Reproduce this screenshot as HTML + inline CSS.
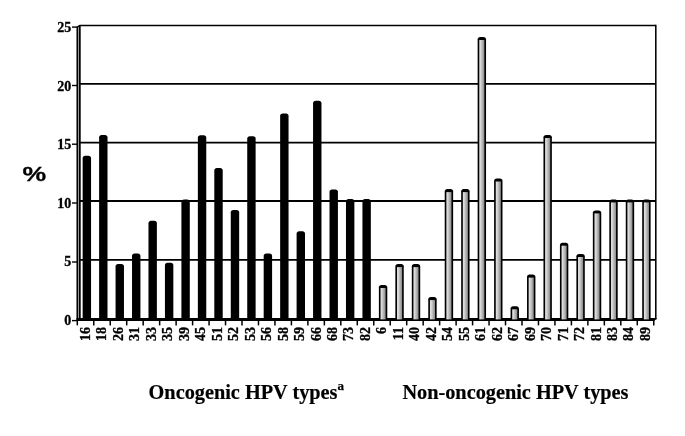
<!DOCTYPE html>
<html><head><meta charset="utf-8"><style>
html,body{margin:0;padding:0;background:#fff;}
svg{display:block;filter:grayscale(1);}
.ax{font-family:"Liberation Serif",serif;font-weight:bold;font-size:14px;stroke:#000;stroke-width:0.3px;}
.ti{font-family:"Liberation Serif",serif;font-weight:bold;font-size:20.3px;stroke:#000;stroke-width:0.2px;}
.pc{font-family:"Liberation Sans",sans-serif;font-weight:bold;font-size:20px;stroke:#000;stroke-width:0.25px;}
.sup{font-family:"Liberation Serif",serif;font-weight:bold;font-size:13px;stroke:#000;stroke-width:0.25px;}
</style></head><body>
<svg width="685" height="436" viewBox="0 0 685 436">
<rect width="685" height="436" fill="#fff"/>
<defs><linearGradient id="g" x1="0" x2="1" y1="0" y2="0"><stop offset="0" stop-color="#e4e4e4"/><stop offset="0.25" stop-color="#d8d8d8"/><stop offset="1" stop-color="#888888"/></linearGradient></defs>
<line x1="79.9" y1="25.5" x2="655.8" y2="25.5" stroke="#000" stroke-width="1.4"/>
<line x1="79.9" y1="83.9" x2="655.8" y2="83.9" stroke="#000" stroke-width="1.75"/>
<line x1="79.9" y1="142.55" x2="655.8" y2="142.55" stroke="#000" stroke-width="1.65"/>
<line x1="79.9" y1="201.0" x2="655.8" y2="201.0" stroke="#000" stroke-width="1.8"/>
<line x1="79.9" y1="259.95" x2="655.8" y2="259.95" stroke="#000" stroke-width="1.8"/>
<line x1="77.4" y1="26.6" x2="77.4" y2="321" stroke="#000" stroke-width="1.85"/>
<line x1="79.8" y1="25" x2="79.8" y2="318.5" stroke="#000" stroke-width="1.8"/>
<line x1="77.4" y1="27" x2="79.8" y2="25.2" stroke="#000" stroke-width="1.3"/>
<line x1="655.8" y1="24.8" x2="655.8" y2="319.5" stroke="#000" stroke-width="1.55"/>
<line x1="72" y1="27.1" x2="77.5" y2="27.1" stroke="#000" stroke-width="1.4"/>
<line x1="72" y1="85.5" x2="77.5" y2="85.5" stroke="#000" stroke-width="1.4"/>
<line x1="72" y1="144.2" x2="77.5" y2="144.2" stroke="#000" stroke-width="1.4"/>
<line x1="72" y1="203.0" x2="77.5" y2="203.0" stroke="#000" stroke-width="1.4"/>
<line x1="72" y1="262.0" x2="77.5" y2="262.0" stroke="#000" stroke-width="1.4"/>
<line x1="72" y1="320.6" x2="77.5" y2="320.6" stroke="#000" stroke-width="1.4"/>
<polygon fill="#000" points="76.5,317.9 656.5,317.9 656.5,318.7 654.2,321.1 76.5,321.1"/>
<path d="M82.65,158.00 C82.65,156.40 83.95,155.80 86.85,155.80 C89.75,155.80 91.05,156.40 91.05,158.00 L91.05,319.60 L82.65,319.60 Z" fill="#000"/>
<path d="M99.11,137.20 C99.11,135.60 100.41,135.00 103.31,135.00 C106.21,135.00 107.51,135.60 107.51,137.20 L107.51,319.60 L99.11,319.60 Z" fill="#000"/>
<path d="M115.57,266.10 C115.57,264.50 116.87,263.90 119.77,263.90 C122.67,263.90 123.97,264.50 123.97,266.10 L123.97,319.60 L115.57,319.60 Z" fill="#000"/>
<path d="M132.02,255.70 C132.02,254.10 133.32,253.50 136.22,253.50 C139.12,253.50 140.42,254.10 140.42,255.70 L140.42,319.60 L132.02,319.60 Z" fill="#000"/>
<path d="M148.48,223.00 C148.48,221.40 149.78,220.80 152.68,220.80 C155.58,220.80 156.88,221.40 156.88,223.00 L156.88,319.60 L148.48,319.60 Z" fill="#000"/>
<path d="M164.94,265.00 C164.94,263.40 166.24,262.80 169.14,262.80 C172.04,262.80 173.34,263.40 173.34,265.00 L173.34,319.60 L164.94,319.60 Z" fill="#000"/>
<path d="M181.40,201.70 C181.40,200.10 182.70,199.50 185.60,199.50 C188.50,199.50 189.80,200.10 189.80,201.70 L189.80,319.60 L181.40,319.60 Z" fill="#000"/>
<path d="M197.86,137.40 C197.86,135.80 199.16,135.20 202.06,135.20 C204.96,135.20 206.26,135.80 206.26,137.40 L206.26,319.60 L197.86,319.60 Z" fill="#000"/>
<path d="M214.31,170.10 C214.31,168.50 215.61,167.90 218.51,167.90 C221.41,167.90 222.71,168.50 222.71,170.10 L222.71,319.60 L214.31,319.60 Z" fill="#000"/>
<path d="M230.77,212.20 C230.77,210.60 232.07,210.00 234.97,210.00 C237.87,210.00 239.17,210.60 239.17,212.20 L239.17,319.60 L230.77,319.60 Z" fill="#000"/>
<path d="M247.23,138.50 C247.23,136.90 248.53,136.30 251.43,136.30 C254.33,136.30 255.63,136.90 255.63,138.50 L255.63,319.60 L247.23,319.60 Z" fill="#000"/>
<path d="M263.69,255.80 C263.69,254.20 264.99,253.60 267.89,253.60 C270.79,253.60 272.09,254.20 272.09,255.80 L272.09,319.60 L263.69,319.60 Z" fill="#000"/>
<path d="M280.15,115.80 C280.15,114.20 281.45,113.60 284.35,113.60 C287.25,113.60 288.55,114.20 288.55,115.80 L288.55,319.60 L280.15,319.60 Z" fill="#000"/>
<path d="M296.60,233.40 C296.60,231.80 297.90,231.20 300.80,231.20 C303.70,231.20 305.00,231.80 305.00,233.40 L305.00,319.60 L296.60,319.60 Z" fill="#000"/>
<path d="M313.06,103.00 C313.06,101.40 314.36,100.80 317.26,100.80 C320.16,100.80 321.46,101.40 321.46,103.00 L321.46,319.60 L313.06,319.60 Z" fill="#000"/>
<path d="M329.52,191.60 C329.52,190.00 330.82,189.40 333.72,189.40 C336.62,189.40 337.92,190.00 337.92,191.60 L337.92,319.60 L329.52,319.60 Z" fill="#000"/>
<path d="M345.98,201.20 C345.98,199.60 347.28,199.00 350.18,199.00 C353.08,199.00 354.38,199.60 354.38,201.20 L354.38,319.60 L345.98,319.60 Z" fill="#000"/>
<path d="M362.44,201.20 C362.44,199.60 363.74,199.00 366.64,199.00 C369.54,199.00 370.84,199.60 370.84,201.20 L370.84,319.60 L362.44,319.60 Z" fill="#000"/>
<path d="M378.89,287.20 C378.89,285.60 380.19,285.00 383.09,285.00 C385.99,285.00 387.29,285.60 387.29,287.20 L387.29,319.60 L378.89,319.60 Z" fill="#000"/>
<rect x="380.54" y="288.00" width="5.10" height="31.40" fill="url(#g)"/>
<path d="M395.35,266.30 C395.35,264.70 396.65,264.10 399.55,264.10 C402.45,264.10 403.75,264.70 403.75,266.30 L403.75,319.60 L395.35,319.60 Z" fill="#000"/>
<rect x="397.00" y="267.10" width="5.10" height="52.30" fill="url(#g)"/>
<path d="M411.81,266.30 C411.81,264.70 413.11,264.10 416.01,264.10 C418.91,264.10 420.21,264.70 420.21,266.30 L420.21,319.60 L411.81,319.60 Z" fill="#000"/>
<rect x="413.46" y="267.10" width="5.10" height="52.30" fill="url(#g)"/>
<path d="M428.27,299.30 C428.27,297.70 429.57,297.10 432.47,297.10 C435.37,297.10 436.67,297.70 436.67,299.30 L436.67,319.60 L428.27,319.60 Z" fill="#000"/>
<rect x="429.92" y="300.10" width="5.10" height="19.30" fill="url(#g)"/>
<path d="M444.73,191.30 C444.73,189.70 446.03,189.10 448.93,189.10 C451.83,189.10 453.13,189.70 453.13,191.30 L453.13,319.60 L444.73,319.60 Z" fill="#000"/>
<rect x="446.38" y="192.10" width="5.10" height="127.30" fill="url(#g)"/>
<path d="M461.18,191.30 C461.18,189.70 462.48,189.10 465.38,189.10 C468.28,189.10 469.58,189.70 469.58,191.30 L469.58,319.60 L461.18,319.60 Z" fill="#000"/>
<rect x="462.83" y="192.10" width="5.10" height="127.30" fill="url(#g)"/>
<path d="M477.64,39.20 C477.64,37.60 478.94,37.00 481.84,37.00 C484.74,37.00 486.04,37.60 486.04,39.20 L486.04,319.60 L477.64,319.60 Z" fill="#000"/>
<rect x="479.29" y="40.00" width="5.10" height="279.40" fill="url(#g)"/>
<path d="M494.10,180.70 C494.10,179.10 495.40,178.50 498.30,178.50 C501.20,178.50 502.50,179.10 502.50,180.70 L502.50,319.60 L494.10,319.60 Z" fill="#000"/>
<rect x="495.75" y="181.50" width="5.10" height="137.90" fill="url(#g)"/>
<path d="M510.56,308.50 C510.56,306.90 511.86,306.30 514.76,306.30 C517.66,306.30 518.96,306.90 518.96,308.50 L518.96,319.60 L510.56,319.60 Z" fill="#000"/>
<rect x="512.21" y="309.30" width="5.10" height="10.10" fill="url(#g)"/>
<path d="M527.02,276.80 C527.02,275.20 528.32,274.60 531.22,274.60 C534.12,274.60 535.42,275.20 535.42,276.80 L535.42,319.60 L527.02,319.60 Z" fill="#000"/>
<rect x="528.67" y="277.60" width="5.10" height="41.80" fill="url(#g)"/>
<path d="M543.47,137.20 C543.47,135.60 544.77,135.00 547.67,135.00 C550.57,135.00 551.87,135.60 551.87,137.20 L551.87,319.60 L543.47,319.60 Z" fill="#000"/>
<rect x="545.12" y="138.00" width="5.10" height="181.40" fill="url(#g)"/>
<path d="M559.93,244.90 C559.93,243.30 561.23,242.70 564.13,242.70 C567.03,242.70 568.33,243.30 568.33,244.90 L568.33,319.60 L559.93,319.60 Z" fill="#000"/>
<rect x="561.58" y="245.70" width="5.10" height="73.70" fill="url(#g)"/>
<path d="M576.39,256.20 C576.39,254.60 577.69,254.00 580.59,254.00 C583.49,254.00 584.79,254.60 584.79,256.20 L584.79,319.60 L576.39,319.60 Z" fill="#000"/>
<rect x="578.04" y="257.00" width="5.10" height="62.40" fill="url(#g)"/>
<path d="M592.85,212.60 C592.85,211.00 594.15,210.40 597.05,210.40 C599.95,210.40 601.25,211.00 601.25,212.60 L601.25,319.60 L592.85,319.60 Z" fill="#000"/>
<rect x="594.50" y="213.40" width="5.10" height="106.00" fill="url(#g)"/>
<path d="M609.31,201.60 C609.31,200.00 610.61,199.40 613.51,199.40 C616.41,199.40 617.71,200.00 617.71,201.60 L617.71,319.60 L609.31,319.60 Z" fill="#000"/>
<rect x="610.96" y="202.40" width="5.10" height="117.00" fill="url(#g)"/>
<path d="M625.76,201.60 C625.76,200.00 627.06,199.40 629.96,199.40 C632.86,199.40 634.16,200.00 634.16,201.60 L634.16,319.60 L625.76,319.60 Z" fill="#000"/>
<rect x="627.41" y="202.40" width="5.10" height="117.00" fill="url(#g)"/>
<path d="M642.22,201.60 C642.22,200.00 643.52,199.40 646.42,199.40 C649.32,199.40 650.62,200.00 650.62,201.60 L650.62,319.60 L642.22,319.60 Z" fill="#000"/>
<rect x="643.87" y="202.40" width="5.10" height="117.00" fill="url(#g)"/>
<line x1="77.30" y1="320" x2="77.30" y2="325.4" stroke="#000" stroke-width="1.5"/>
<line x1="93.77" y1="320" x2="93.77" y2="325.4" stroke="#000" stroke-width="1.5"/>
<line x1="110.24" y1="320" x2="110.24" y2="325.4" stroke="#000" stroke-width="1.5"/>
<line x1="126.71" y1="320" x2="126.71" y2="325.4" stroke="#000" stroke-width="1.5"/>
<line x1="143.18" y1="320" x2="143.18" y2="325.4" stroke="#000" stroke-width="1.5"/>
<line x1="159.65" y1="320" x2="159.65" y2="325.4" stroke="#000" stroke-width="1.5"/>
<line x1="176.12" y1="320" x2="176.12" y2="325.4" stroke="#000" stroke-width="1.5"/>
<line x1="192.59" y1="320" x2="192.59" y2="325.4" stroke="#000" stroke-width="1.5"/>
<line x1="209.06" y1="320" x2="209.06" y2="325.4" stroke="#000" stroke-width="1.5"/>
<line x1="225.53" y1="320" x2="225.53" y2="325.4" stroke="#000" stroke-width="1.5"/>
<line x1="242.00" y1="320" x2="242.00" y2="325.4" stroke="#000" stroke-width="1.5"/>
<line x1="258.47" y1="320" x2="258.47" y2="325.4" stroke="#000" stroke-width="1.5"/>
<line x1="274.94" y1="320" x2="274.94" y2="325.4" stroke="#000" stroke-width="1.5"/>
<line x1="291.41" y1="320" x2="291.41" y2="325.4" stroke="#000" stroke-width="1.5"/>
<line x1="307.88" y1="320" x2="307.88" y2="325.4" stroke="#000" stroke-width="1.5"/>
<line x1="324.35" y1="320" x2="324.35" y2="325.4" stroke="#000" stroke-width="1.5"/>
<line x1="340.82" y1="320" x2="340.82" y2="325.4" stroke="#000" stroke-width="1.5"/>
<line x1="357.29" y1="320" x2="357.29" y2="325.4" stroke="#000" stroke-width="1.5"/>
<line x1="373.76" y1="320" x2="373.76" y2="325.4" stroke="#000" stroke-width="1.5"/>
<line x1="390.23" y1="320" x2="390.23" y2="325.4" stroke="#000" stroke-width="1.5"/>
<line x1="406.70" y1="320" x2="406.70" y2="325.4" stroke="#000" stroke-width="1.5"/>
<line x1="423.17" y1="320" x2="423.17" y2="325.4" stroke="#000" stroke-width="1.5"/>
<line x1="439.64" y1="320" x2="439.64" y2="325.4" stroke="#000" stroke-width="1.5"/>
<line x1="456.11" y1="320" x2="456.11" y2="325.4" stroke="#000" stroke-width="1.5"/>
<line x1="472.58" y1="320" x2="472.58" y2="325.4" stroke="#000" stroke-width="1.5"/>
<line x1="489.05" y1="320" x2="489.05" y2="325.4" stroke="#000" stroke-width="1.5"/>
<line x1="505.52" y1="320" x2="505.52" y2="325.4" stroke="#000" stroke-width="1.5"/>
<line x1="521.99" y1="320" x2="521.99" y2="325.4" stroke="#000" stroke-width="1.5"/>
<line x1="538.46" y1="320" x2="538.46" y2="325.4" stroke="#000" stroke-width="1.5"/>
<line x1="554.93" y1="320" x2="554.93" y2="325.4" stroke="#000" stroke-width="1.5"/>
<line x1="571.40" y1="320" x2="571.40" y2="325.4" stroke="#000" stroke-width="1.5"/>
<line x1="587.87" y1="320" x2="587.87" y2="325.4" stroke="#000" stroke-width="1.5"/>
<line x1="604.34" y1="320" x2="604.34" y2="325.4" stroke="#000" stroke-width="1.5"/>
<line x1="620.81" y1="320" x2="620.81" y2="325.4" stroke="#000" stroke-width="1.5"/>
<line x1="637.28" y1="320" x2="637.28" y2="325.4" stroke="#000" stroke-width="1.5"/>
<line x1="653.75" y1="320" x2="653.75" y2="325.4" stroke="#000" stroke-width="1.5"/>
<text x="71.2" y="32.0" text-anchor="end" class="ax">25</text>
<text x="71.2" y="90.7" text-anchor="end" class="ax">20</text>
<text x="71.2" y="149.1" text-anchor="end" class="ax">15</text>
<text x="71.2" y="207.9" text-anchor="end" class="ax">10</text>
<text x="71.2" y="266.2" text-anchor="end" class="ax">5</text>
<text x="71.2" y="324.5" text-anchor="end" class="ax">0</text>
<text transform="translate(89.94,327.0) rotate(-90)" text-anchor="end" class="ax">16</text>
<text transform="translate(106.41,327.0) rotate(-90)" text-anchor="end" class="ax">18</text>
<text transform="translate(122.88,327.0) rotate(-90)" text-anchor="end" class="ax">26</text>
<text transform="translate(139.34,327.0) rotate(-90)" text-anchor="end" class="ax">31</text>
<text transform="translate(155.81,327.0) rotate(-90)" text-anchor="end" class="ax">33</text>
<text transform="translate(172.28,327.0) rotate(-90)" text-anchor="end" class="ax">35</text>
<text transform="translate(188.75,327.0) rotate(-90)" text-anchor="end" class="ax">39</text>
<text transform="translate(205.22,327.0) rotate(-90)" text-anchor="end" class="ax">45</text>
<text transform="translate(221.70,327.0) rotate(-90)" text-anchor="end" class="ax">51</text>
<text transform="translate(238.16,327.0) rotate(-90)" text-anchor="end" class="ax">52</text>
<text transform="translate(254.64,327.0) rotate(-90)" text-anchor="end" class="ax">53</text>
<text transform="translate(271.10,327.0) rotate(-90)" text-anchor="end" class="ax">56</text>
<text transform="translate(287.57,327.0) rotate(-90)" text-anchor="end" class="ax">58</text>
<text transform="translate(304.04,327.0) rotate(-90)" text-anchor="end" class="ax">59</text>
<text transform="translate(320.51,327.0) rotate(-90)" text-anchor="end" class="ax">66</text>
<text transform="translate(336.98,327.0) rotate(-90)" text-anchor="end" class="ax">68</text>
<text transform="translate(353.45,327.0) rotate(-90)" text-anchor="end" class="ax">73</text>
<text transform="translate(369.92,327.0) rotate(-90)" text-anchor="end" class="ax">82</text>
<text transform="translate(386.39,327.0) rotate(-90)" text-anchor="end" class="ax">6</text>
<text transform="translate(402.86,327.0) rotate(-90)" text-anchor="end" class="ax">11</text>
<text transform="translate(419.33,327.0) rotate(-90)" text-anchor="end" class="ax">40</text>
<text transform="translate(435.80,327.0) rotate(-90)" text-anchor="end" class="ax">42</text>
<text transform="translate(452.27,327.0) rotate(-90)" text-anchor="end" class="ax">54</text>
<text transform="translate(468.74,327.0) rotate(-90)" text-anchor="end" class="ax">55</text>
<text transform="translate(485.21,327.0) rotate(-90)" text-anchor="end" class="ax">61</text>
<text transform="translate(501.68,327.0) rotate(-90)" text-anchor="end" class="ax">62</text>
<text transform="translate(518.15,327.0) rotate(-90)" text-anchor="end" class="ax">67</text>
<text transform="translate(534.62,327.0) rotate(-90)" text-anchor="end" class="ax">69</text>
<text transform="translate(551.09,327.0) rotate(-90)" text-anchor="end" class="ax">70</text>
<text transform="translate(567.56,327.0) rotate(-90)" text-anchor="end" class="ax">71</text>
<text transform="translate(584.03,327.0) rotate(-90)" text-anchor="end" class="ax">72</text>
<text transform="translate(600.50,327.0) rotate(-90)" text-anchor="end" class="ax">81</text>
<text transform="translate(616.97,327.0) rotate(-90)" text-anchor="end" class="ax">83</text>
<text transform="translate(633.44,327.0) rotate(-90)" text-anchor="end" class="ax">84</text>
<text transform="translate(649.91,327.0) rotate(-90)" text-anchor="end" class="ax">89</text>
<text transform="translate(22.4,181.2) scale(1.33,1.05)" class="pc">%</text>
<text x="148.6" y="399.3" class="ti">Oncogenic HPV types</text>
<text x="337.6" y="389.6" class="sup">a</text>
<text x="402.4" y="399.3" class="ti">Non-oncogenic HPV types</text>
</svg>
</body></html>
